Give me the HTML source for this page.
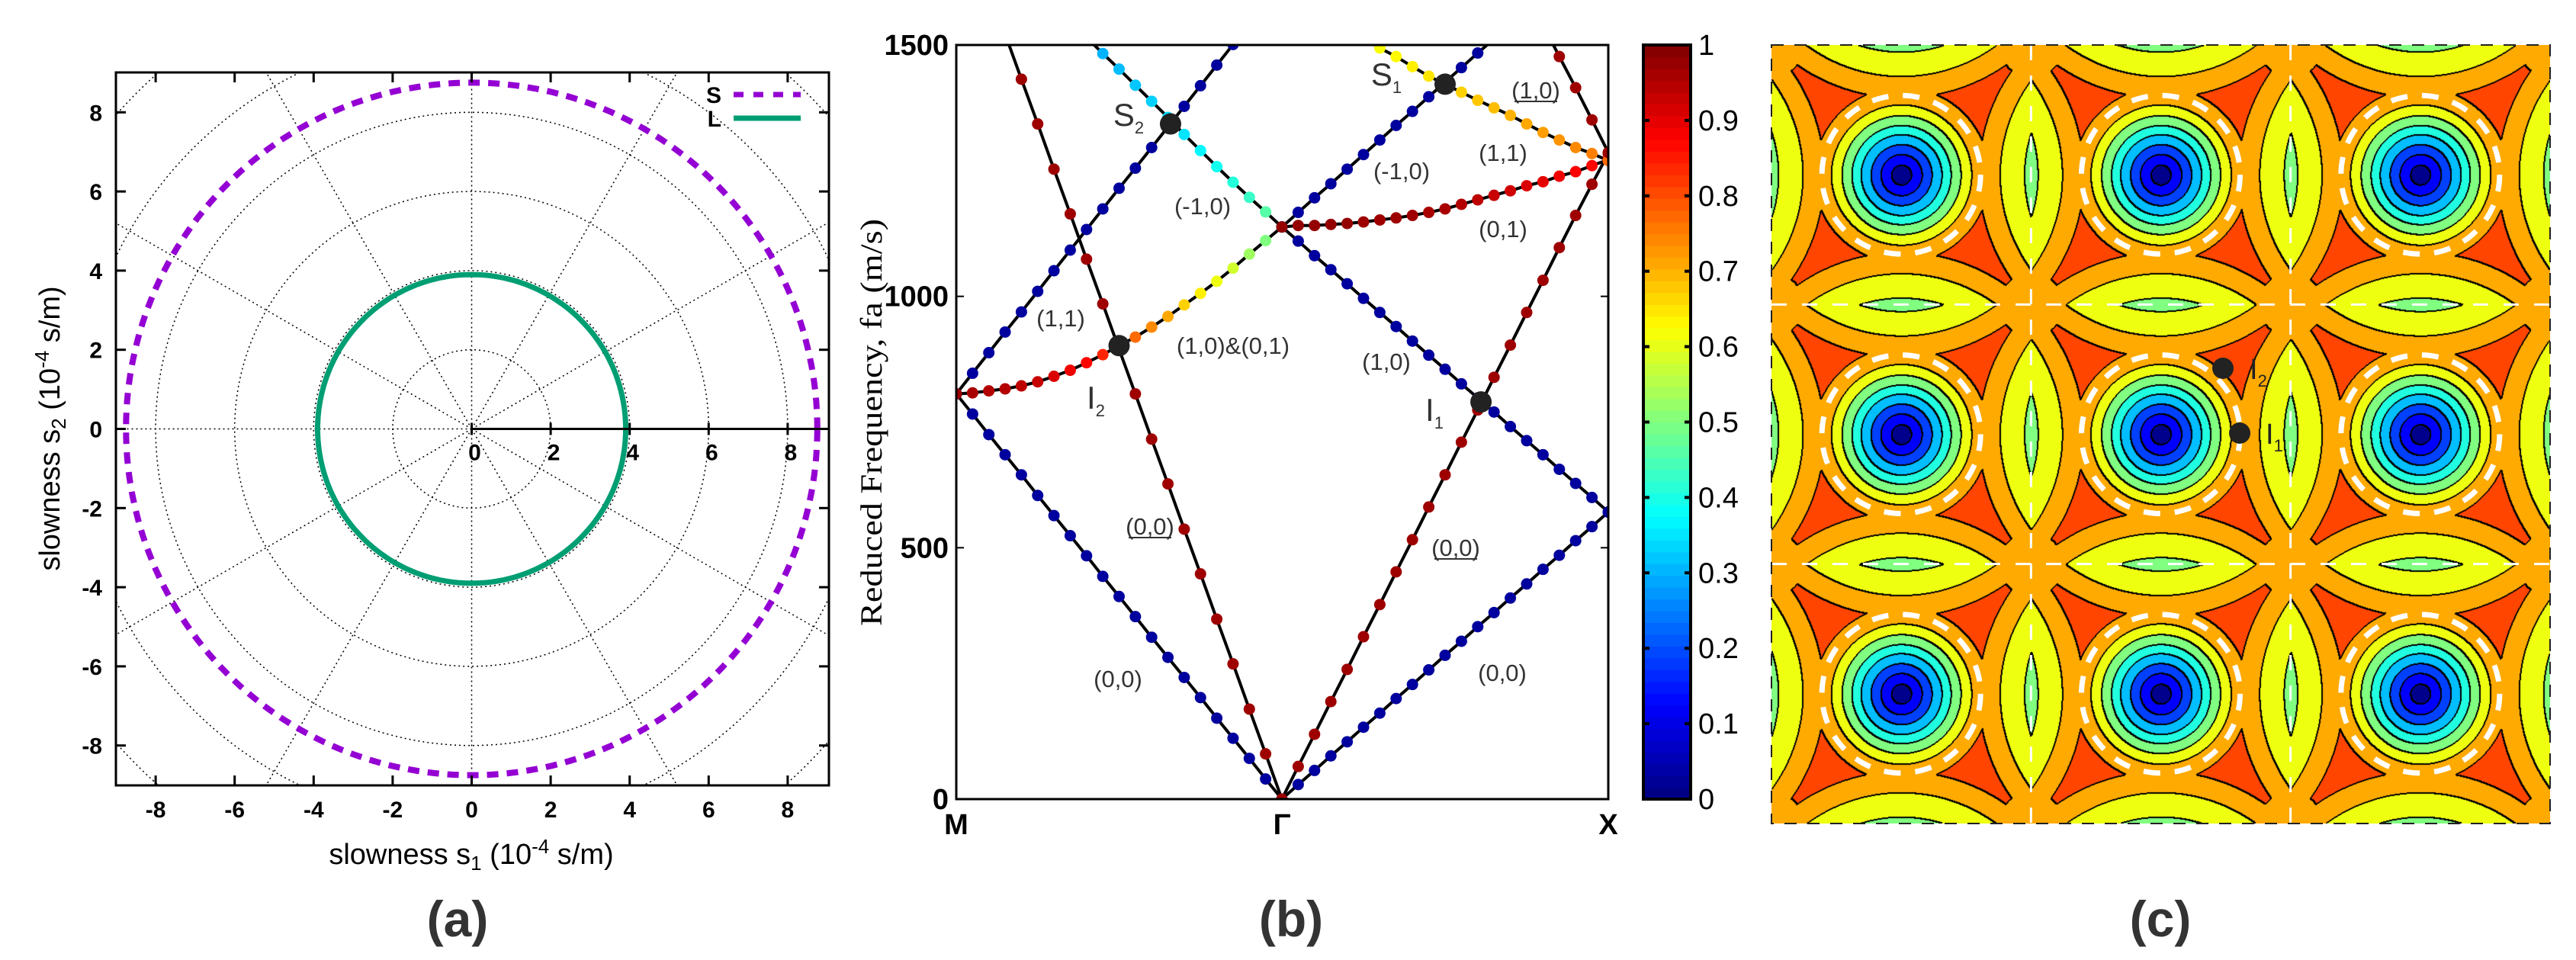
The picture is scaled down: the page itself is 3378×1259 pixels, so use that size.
<!DOCTYPE html>
<html><head><meta charset="utf-8">
<style>
html,body{margin:0;padding:0;background:#fff;width:3378px;height:1259px;overflow:hidden;position:relative}
svg{position:absolute;left:0;top:0;font-family:"Liberation Sans",sans-serif}
#cfield{position:absolute;left:2323px;top:59px}
</style></head><body>
<svg id="main" width="3378" height="1259"></svg>
<canvas id="cfield" width="1021" height="1021"></canvas>
<svg id="over" width="3378" height="1259"></svg>
<script>
// ---------- Panel (a) data ----------
const polarAngles=[0,15,30,45,60,75,90,105,120,135,150,165,180,195,210,225,240,255,270,285,300,315,330,345,360];
const sSlowness=[8.75,8.75,8.75,8.75,8.75,8.75,8.75,8.75,8.75,8.75,8.75,8.75,8.75,8.75,8.75,8.75,8.75,8.75,8.75,8.75,8.75,8.75,8.75,8.75,8.75];
const lSlowness=[3.9,3.9,3.9,3.9,3.9,3.9,3.9,3.9,3.9,3.9,3.9,3.9,3.9,3.9,3.9,3.9,3.9,3.9,3.9,3.9,3.9,3.9,3.9,3.9,3.9];
const aTicks=[-8,-6,-4,-2,0,2,4,6,8];
const gridRadii=[2,4,6,8,10,12];
const gridAngles=[0,30,60,90,120,150,180,210,240,270,300,330];
const polarTickLabels=[0,2,4,6,8];
// ---------- Panel (b) data ----------
const bandA=[806,766,725,685,645,604,564,524,484,443,403,363,322,282,242,202,161,121,81,40,0];
const bandB=[null,null,null,1522,1432,1343,1253,1164,1074,985,895,806,716,627,537,448,358,269,179,90,0];
const bandC=[806,847,888,929,969,1010,1051,1092,1133,1174,1215,1255,1296,1337,1378,1419,1460,1501,null,null,null];
const bandD=[806,808,812,816,822,830,841,853,868,884,902,919,939,960,983,1006,1030,1056,1084,1111,1138];
const bandDval=[0.97,0.96,0.95,0.95,0.94,0.93,0.91,0.89,0.87,0.84,0.8,0.77,0.74,0.71,0.67,0.64,0.61,0.58,0.53,0.5,0.48];
const bandE=[null,null,null,null,null,null,null,null,1515,1483,1452,1420,1388,1356,1322,1290,1258,1227,1197,1168,1138];
const bandEval=[0,0,0,0,0,0,0,0,0.3,0.3,0.31,0.32,0.33,0.34,0.35,0.37,0.39,0.41,0.43,0.46,0.48];
const bandF=[0,29,57,86,114,143,171,200,228,257,286,314,343,371,400,428,457,485,514,542,571];
const bandG=[0,65,129,194,258,323,387,452,516,581,645,710,774,839,903,968,1032,1097,1161,1223,1284];
const bandH=[1138,1110,1081,1053,1025,996,968,940,911,883,855,826,798,770,741,713,685,656,628,600,571];
const bandI=[1138,1167,1196,1224,1253,1282,1311,1340,1368,1397,1426,1455,1484,1512,null,null,null,null,null,null,null];
const bandJ=[1138,1141,1141,1143,1145,1148,1152,1156,1161,1167,1174,1183,1192,1201,1210,1220,1228,1239,1248,1260,1272];
const bandJval=[0.98,0.98,0.98,0.98,0.98,0.97,0.97,0.97,0.97,0.96,0.96,0.95,0.94,0.93,0.92,0.91,0.9,0.89,0.88,0.87,0.86];
const bandK=[null,null,null,null,null,1513,1494,1477,1457,1438,1422,1406,1390,1375,1360,1343,1326,1311,1296,1284,1270];
const bandKval=[0,0,0,0,0,0.62,0.62,0.63,0.64,0.65,0.66,0.67,0.68,0.69,0.7,0.71,0.72,0.73,0.74,0.75,0.77];
const bandL=[null,null,null,null,null,null,null,null,null,null,null,null,null,null,null,null,1540,1477,1415,1351,1286];
const freqTicks=[0,500,1000,1500];
const cbTicks=[0,0.1,0.2,0.3,0.4,0.5,0.6,0.7,0.8,0.9,1];
const cbTickLabels=["0","0.1","0.2","0.3","0.4","0.5","0.6","0.7","0.8","0.9","1"];
const specialNames=["S2","S1","I2","I1"];
const specialSide=["L","R","L","R"];
const specialK=[0.658,0.5,0.5,0.61];
const specialF=[1343,1422,902,790];

const NS="http://www.w3.org/2000/svg";
const svg=document.getElementById('main');
function mk(tag,attrs,parent){const e=document.createElementNS(NS,tag);for(const k in attrs)e.setAttribute(k,attrs[k]);(parent||svg).appendChild(e);return e;}
function jet(v){const c=x=>Math.round(255*Math.max(0,Math.min(1,x)));return `rgb(${c(1.5-Math.abs(4*v-3))},${c(1.5-Math.abs(4*v-2))},${c(1.5-Math.abs(4*v-1))})`;}
const NARROW='Liberation Sans Narrow, Liberation Sans, sans-serif';

// ===== Panel (a) =====
const aX=v=>618.5+v*51.8, aY=v=>562.5-v*51.9;
const defs=mk('defs',{});
const cpA=mk('clipPath',{id:'clipA'},defs); mk('rect',{x:152,y:95,width:935,height:935},cpA);
const cpB=mk('clipPath',{id:'clipB'},defs); mk('rect',{x:1254,y:59,width:855,height:989},cpB);
const gA=mk('g',{'clip-path':'url(#clipA)'});


gridRadii.forEach(r=>{const e=mk('ellipse',{cx:aX(0),cy:aY(0),rx:r*51.8,ry:r*51.9,fill:'none',stroke:'#000','stroke-width':1.5,'stroke-dasharray':'2 4'},gA);
});
gridAngles.forEach(a=>{const t=a*Math.PI/180;const e=mk('line',{x1:aX(0),y1:aY(0),x2:aX(14*Math.cos(t)),y2:aY(14*Math.sin(t)),stroke:'#000','stroke-width':1.5,'stroke-dasharray':'2 4'},gA);
});
function polarSmooth(vals){let pts=[];for(let i=0;i<polarAngles.length-1;i++){for(let s=0;s<10;s++){const f=s/10;const a=(polarAngles[i]+(polarAngles[i+1]-polarAngles[i])*f)*Math.PI/180;const r=vals[i]+(vals[i+1]-vals[i])*f;pts.push(`${aX(r*Math.cos(a)).toFixed(1)},${aY(r*Math.sin(a)).toFixed(1)}`);}}pts.push(pts[0]);return pts.join(' ');}
let e;
e=mk('polyline',{points:polarSmooth(sSlowness),fill:'none',stroke:'#9400D3','stroke-width':8,'stroke-dasharray':'15 11'},gA);

e=mk('polyline',{points:polarSmooth(lSlowness),fill:'none',stroke:'#009E73','stroke-width':7},gA);

e=mk('line',{x1:aX(0),y1:aY(0),x2:1087,y2:aY(0),stroke:'#000','stroke-width':3});

polarTickLabels.forEach(v=>{mk('line',{x1:aX(v),y1:aY(0)-8,x2:aX(v),y2:aY(0)+8,stroke:'#000','stroke-width':3});
const t=mk('text',{x:aX(v)+4,y:aY(0)+41,'font-size':30,'font-weight':'bold','text-anchor':'middle'});t.textContent=v;
});
e=mk('rect',{x:152,y:95,width:935,height:935,fill:'none',stroke:'#000','stroke-width':3});

aTicks.forEach(v=>{
 mk('line',{x1:aX(v),y1:1030,x2:aX(v),y2:1017,stroke:'#000','stroke-width':3});
 mk('line',{x1:aX(v),y1:95,x2:aX(v),y2:108,stroke:'#000','stroke-width':3});
 mk('line',{x1:152,y1:aY(v),x2:165,y2:aY(v),stroke:'#000','stroke-width':3});
 mk('line',{x1:1087,y1:aY(v),x2:1074,y2:aY(v),stroke:'#000','stroke-width':3});
 let t=mk('text',{x:aX(v),y:1072,'font-size':30,'font-weight':'bold','text-anchor':'middle'});t.textContent=v;
 
 t=mk('text',{x:134,y:aY(v)+11,'font-size':30,'font-weight':'bold','text-anchor':'end'});t.textContent=v;
 
});
let t=mk('text',{x:946,y:135,'font-size':30,'font-weight':'bold','text-anchor':'end'});t.textContent='S';

t=mk('text',{x:946,y:166,'font-size':30,'font-weight':'bold','text-anchor':'end'});t.textContent='L';

e=mk('line',{x1:962,y1:124,x2:1050,y2:124,stroke:'#9400D3','stroke-width':7,'stroke-dasharray':'13 13'});

e=mk('line',{x1:962,y1:155,x2:1050,y2:155,stroke:'#009E73','stroke-width':7});

t=mk('text',{x:618,y:1133,'font-size':38,'text-anchor':'middle'});
t.innerHTML='slowness s<tspan font-size="26" dy="8">1</tspan><tspan dy="-8"> (10</tspan><tspan font-size="26" dy="-14">-4</tspan><tspan dy="14"> s/m)</tspan>';

t=mk('text',{x:0,y:0,'font-size':38,'text-anchor':'middle',transform:'translate(78,562) rotate(-90)'});
t.innerHTML='slowness s<tspan font-size="26" dy="8">2</tspan><tspan dy="-8"> (10</tspan><tspan font-size="26" dy="-14">-4</tspan><tspan dy="14"> s/m)</tspan>';

t=mk('text',{x:600,y:1228,'font-size':66,'font-weight':'bold','text-anchor':'middle',fill:'#333'});t.textContent='(a)';


// ===== Panel (b) =====
const bYf=f=>1048-f/1500*989;
const bXl=u=>1254+u*427;
const bXr=v=>1681+v*428;
const gB=mk('g',{'clip-path':'url(#clipB)'});

function drawBand(arr,side,vals,constVal,name){
 const X=side==='L'?bXl:bXr;
 const pts=[];arr.forEach((f,i)=>{if(f!==null)pts.push([X(i/20),bYf(f),i]);});
 const l=mk('polyline',{points:pts.map(p=>p[0].toFixed(1)+','+p[1].toFixed(1)).join(' '),fill:'none',stroke:'#000','stroke-width':4},gB);
 
 return ()=>pts.forEach(p=>{const v=vals?vals[p[2]]:constVal;const c=mk('circle',{cx:p[0],cy:p[1],r:7.5,fill:jet(v)},gB);
  });
}
const dotters=[
 drawBand(bandA,'L',null,0.03,'band-a-00'),
 drawBand(bandB,'L',null,0.97,'band-b-00-underlined'),
 drawBand(bandC,'L',null,0.03,'band-c-11'),
 drawBand(bandD,'L',bandDval,0,'band-d-10-01'),
 drawBand(bandE,'L',bandEval,0,'band-e-m10'),
 drawBand(bandF,'R',null,0.03,'band-f-00'),
 drawBand(bandG,'R',null,0.97,'band-g-00-underlined'),
 drawBand(bandH,'R',null,0.03,'band-h-10'),
 drawBand(bandI,'R',null,0.03,'band-i-m10'),
 drawBand(bandJ,'R',bandJval,0,'band-j-01'),
 drawBand(bandK,'R',bandKval,0,'band-k-11'),
 drawBand(bandL,'R',null,0.97,'band-l-10-underlined')];
dotters.forEach(d=>d());
specialNames.forEach((n,i)=>{const x=specialSide[i]==='L'?bXl(specialK[i]):bXr(specialK[i]);
 const c=mk('circle',{cx:x,cy:bYf(specialF[i]),r:14,fill:'#222'});
 });
e=mk('rect',{x:1254,y:59,width:855,height:989,fill:'none',stroke:'#000','stroke-width':3});

freqTicks.forEach(f=>{mk('line',{x1:1254,y1:bYf(f),x2:1264,y2:bYf(f),stroke:'#000','stroke-width':2});
 mk('line',{x1:2109,y1:bYf(f),x2:2099,y2:bYf(f),stroke:'#000','stroke-width':2});
 const t=mk('text',{x:1244,y:bYf(f)+13,'font-size':38,'font-weight':'bold','text-anchor':'end','font-family':NARROW});t.textContent=f;
 });
[['M',1254],['Γ',1681],['X',2109]].forEach(([s,x])=>{const t=mk('text',{x:x,y:1094,'font-size':38,'font-weight':'bold','text-anchor':'middle','font-family':NARROW});t.textContent=s;
 });
t=mk('text',{x:0,y:0,'font-size':40,'text-anchor':'middle','font-family':'Liberation Serif, serif',textLength:534,lengthAdjust:'spacingAndGlyphs',transform:'translate(1156,554) rotate(-90)'});t.textContent='Reduced Frequency, fa (m/s)';

const bl=[['(1,1)',1391,428,0],['(1,0)&(0,1)',1617,464,0],['(-1,0)',1577,281,0],['(0,0)',1508,701,1],['(0,0)',1466,901,0],
 ['(1,0)',2014,129,1],['(1,1)',1971,211,0],['(-1,0)',1838,235,0],['(0,1)',1971,311,0],['(1,0)',1818,485,0],['(0,0)',1909,729,1],['(0,0)',1970,893,0]];
bl.forEach(([s,x,y,u])=>{const t=mk('text',{x:x,y:y,'font-size':31,'text-anchor':'middle',fill:'#333'});
 t.textContent=s;
 
 if(u){mk('line',{x1:x-28,y1:y+4,x2:x+28,y2:y+4,stroke:'#333','stroke-width':2});}});
[['S','2',1480,165],['S','1',1818,112],['I','2',1437,536],['I','1',1881,552]].forEach(([a,b,x,y])=>{
 const t=mk('text',{x:x,y:y,'font-size':42,'text-anchor':'middle',fill:'#333'});
 t.innerHTML=a+'<tspan font-size="22" dy="10">'+b+'</tspan>';
 });
for(let i=0;i<64;i++){const v=(i+0.5)/64;const y0=1048-(i+1)/64*989;
 const r=mk('rect',{x:2155,y:y0,width:62,height:989/64+0.8,fill:jet(v)});
 }
e=mk('rect',{x:2155,y:59,width:62,height:989,fill:'none',stroke:'#000','stroke-width':4});

cbTicks.forEach((v,i)=>{const y=1048-v*989;mk('line',{x1:2155,y1:y,x2:2163,y2:y,stroke:'#000','stroke-width':4});mk('line',{x1:2217,y1:y,x2:2209,y2:y,stroke:'#000','stroke-width':4});
 const t=mk('text',{x:2227,y:y+13,'font-size':38,'font-family':NARROW});t.textContent=cbTickLabels[i];
 });
t=mk('text',{x:1693,y:1228,'font-size':66,'font-weight':'bold','text-anchor':'middle',fill:'#333'});t.textContent='(b)';

t=mk('text',{x:2833,y:1228,'font-size':66,'font-weight':'bold','text-anchor':'middle',fill:'#333'});t.textContent='(c)';


// ===== Panel (c) =====
const cv=document.getElementById('cfield');const ctx=cv.getContext('2d');
const W=1021,H=1021,cell=W/3;
const wellRadii=[13,27,40,53,65,78,92,115];
const wellColors=[[0,0,140],[0,0,255],[0,64,255],[0,190,255],[32,255,223],[128,255,128],[238,255,16],[255,170,0]];
const colGreen=[128,255,128],colYellow=[238,255,16],colOrange=[255,170,0],colRed=[255,69,0];
const lev=new Uint8Array(W*H);
const centers=[];for(let i=-1;i<=3;i++)for(let j=-1;j<=3;j++)centers.push([(i+0.5)*cell,(j+0.5)*cell]);
for(let y=0;y<H;y++)for(let x=0;x<W;x++){
 let d0=1e9,a1=0,a2=0,b=0;
 for(const c of centers){const dx=x-c[0],dy=y-c[1];const d=Math.sqrt(dx*dx+dy*dy);if(d<d0)d0=d;if(d<179)a1++;if(d<211)a2++;if(d<239)b++;}
 const cxr=x-Math.round(x/cell)*cell, cyr=y-Math.round(y/cell)*cell;
 const dc=Math.sqrt(cxr*cxr+cyr*cyr);
 let L;
 if(d0<115){L=0;while(d0>=wellRadii[L])L++;}
 else if(a1>=2)L=8; else if(a2>=2)L=9; else if(b>=2||dc<42)L=10; else L=11;
 lev[y*W+x]=L;}
const img=ctx.createImageData(W,H);const pal=wellColors.concat([colGreen,colYellow,colOrange,colRed]);
const same=(L)=>L===7?10:L===6?9:L===5?8:L;
for(let y=0;y<H;y++)for(let x=0;x<W;x++){const i=y*W+x;let c=pal[lev[i]];
 const a=same(lev[i]);
 if((x<W-1&&same(lev[i+1])!==a)||(y<H-1&&same(lev[i+W])!==a)) c=[0,0,0];
 img.data[i*4]=c[0];img.data[i*4+1]=c[1];img.data[i*4+2]=c[2];img.data[i*4+3]=255;}
const d2=new Uint8ClampedArray(img.data);
for(let y=1;y<H;y++)for(let x=1;x<W;x++){const i=y*W+x;const p=(i-1)*4,q=(i-W)*4;
 if((d2[p]===0&&d2[p+1]===0&&d2[p+2]===0)||(d2[q]===0&&d2[q+1]===0&&d2[q+2]===0)){img.data[i*4]=0;img.data[i*4+1]=0;img.data[i*4+2]=0;}}
ctx.putImageData(img,0,0);

const ov=document.getElementById('over');
function mo(tag,attrs){const e=document.createElementNS(NS,tag);for(const k in attrs)e.setAttribute(k,attrs[k]);ov.appendChild(e);return e;}
const cx0=2323,cy0=59;
for(let k=1;k<3;k++){
 e=mo('line',{x1:cx0+k*cell,y1:cy0,x2:cx0+k*cell,y2:cy0+H,stroke:'#fff','stroke-width':3,'stroke-dasharray':'20 20'});
 
 e=mo('line',{x1:cx0,y1:cy0+k*cell,x2:cx0+W,y2:cy0+k*cell,stroke:'#fff','stroke-width':3,'stroke-dasharray':'20 20'});
 }
for(let i=0;i<3;i++)for(let j=0;j<3;j++){
 e=mo('circle',{cx:cx0+(i+0.5)*cell,cy:cy0+(j+0.5)*cell,r:104,fill:'none',stroke:'#fff','stroke-width':7,'stroke-dasharray':'22 19'});
 }
e=mo('rect',{x:cx0,y:cy0,width:W,height:H,fill:'none',stroke:'#222','stroke-width':2,'stroke-dasharray':'16 14'});

e=mo('circle',{cx:2915,cy:483,r:14,fill:'#222'});
e=mo('circle',{cx:2937,cy:568,r:14,fill:'#222'});
[['2',2950,497],['1',2971,582]].forEach(([s,x,y])=>{const t=document.createElementNS(NS,'text');t.setAttribute('x',x);t.setAttribute('y',y);t.setAttribute('font-size','38');t.setAttribute('fill','#222');
 t.innerHTML='I<tspan font-size="22" dy="10">'+s+'</tspan>';
 
 
 ov.appendChild(t);});
</script>
</body></html>
